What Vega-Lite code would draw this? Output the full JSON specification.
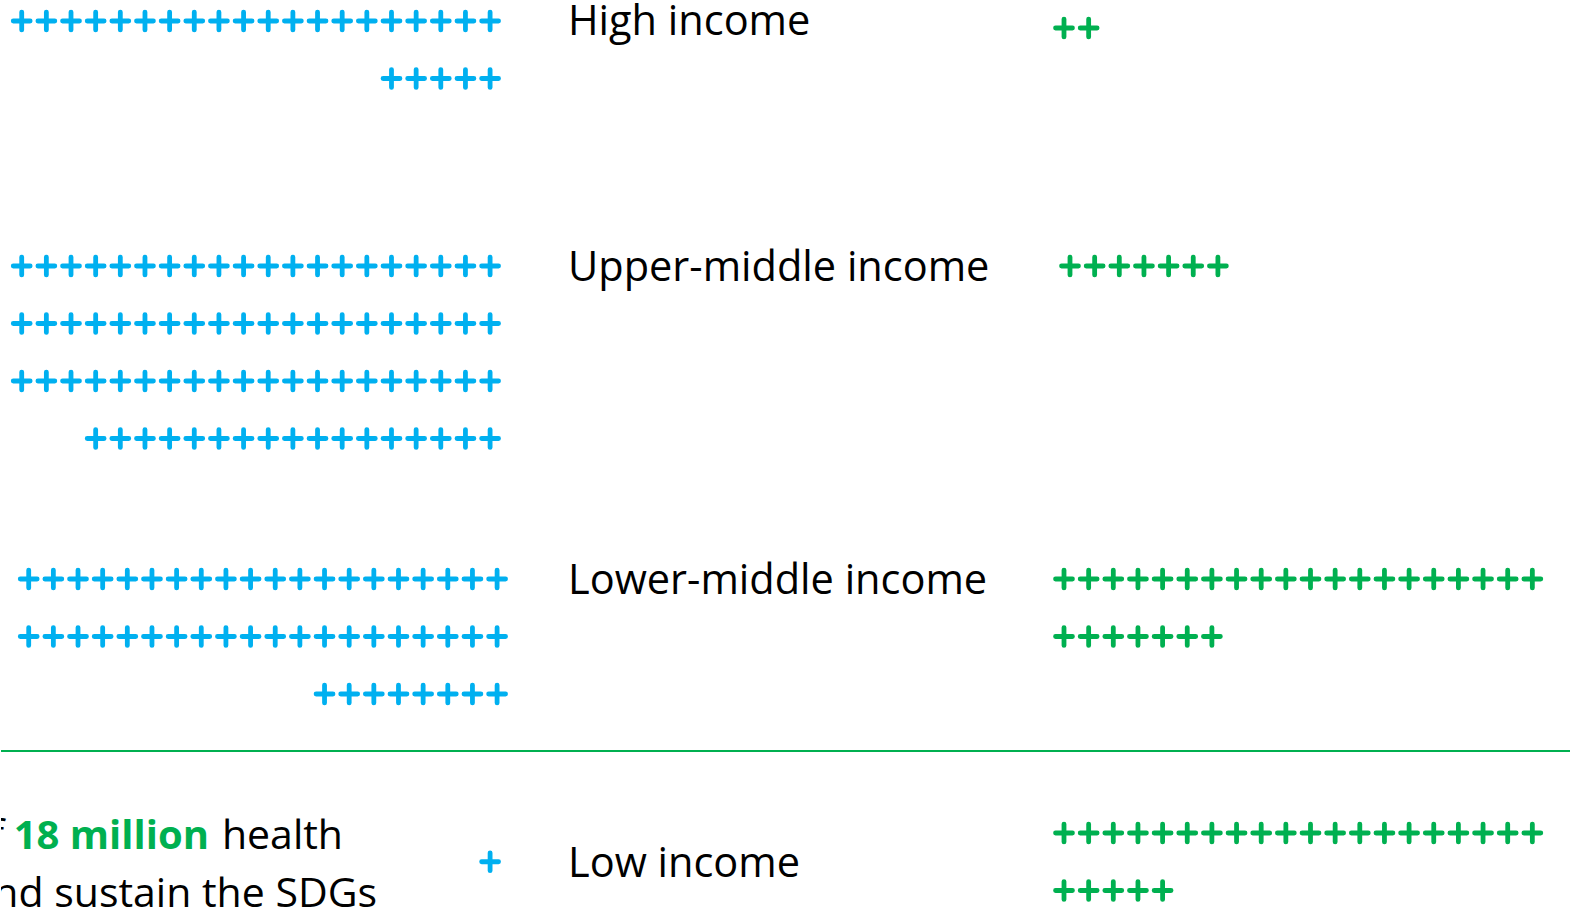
{
  "$schema": "https://vega.github.io/schema/vega-lite/v6.json",
  "background": "white",
  "padding": 0,
  "spacing": 0,
  "bounds": "flush",
  "columns": 3,
  "config": {"view": {"stroke": null}, "concat": {"spacing": 0}, "text": {"font": "Open Sans"}},
  "datasets": {
    "workforce": [
      {"group":"High income","row":1,"col":1},{"group":"High income","row":1,"col":2},{"group":"High income","row":1,"col":3},{"group":"High income","row":1,"col":4},{"group":"High income","row":1,"col":5},{"group":"High income","row":1,"col":6},{"group":"High income","row":1,"col":7},{"group":"High income","row":1,"col":8},{"group":"High income","row":1,"col":9},{"group":"High income","row":1,"col":10},{"group":"High income","row":1,"col":11},{"group":"High income","row":1,"col":12},{"group":"High income","row":1,"col":13},{"group":"High income","row":1,"col":14},{"group":"High income","row":1,"col":15},{"group":"High income","row":1,"col":16},{"group":"High income","row":1,"col":17},{"group":"High income","row":1,"col":18},{"group":"High income","row":1,"col":19},{"group":"High income","row":1,"col":20},
      {"group":"High income","row":2,"col":1},{"group":"High income","row":2,"col":2},{"group":"High income","row":2,"col":3},{"group":"High income","row":2,"col":4},{"group":"High income","row":2,"col":5},
      {"group":"Upper-middle income","row":1,"col":1},{"group":"Upper-middle income","row":1,"col":2},{"group":"Upper-middle income","row":1,"col":3},{"group":"Upper-middle income","row":1,"col":4},{"group":"Upper-middle income","row":1,"col":5},{"group":"Upper-middle income","row":1,"col":6},{"group":"Upper-middle income","row":1,"col":7},{"group":"Upper-middle income","row":1,"col":8},{"group":"Upper-middle income","row":1,"col":9},{"group":"Upper-middle income","row":1,"col":10},{"group":"Upper-middle income","row":1,"col":11},{"group":"Upper-middle income","row":1,"col":12},{"group":"Upper-middle income","row":1,"col":13},{"group":"Upper-middle income","row":1,"col":14},{"group":"Upper-middle income","row":1,"col":15},{"group":"Upper-middle income","row":1,"col":16},{"group":"Upper-middle income","row":1,"col":17},{"group":"Upper-middle income","row":1,"col":18},{"group":"Upper-middle income","row":1,"col":19},{"group":"Upper-middle income","row":1,"col":20},
      {"group":"Upper-middle income","row":2,"col":1},{"group":"Upper-middle income","row":2,"col":2},{"group":"Upper-middle income","row":2,"col":3},{"group":"Upper-middle income","row":2,"col":4},{"group":"Upper-middle income","row":2,"col":5},{"group":"Upper-middle income","row":2,"col":6},{"group":"Upper-middle income","row":2,"col":7},{"group":"Upper-middle income","row":2,"col":8},{"group":"Upper-middle income","row":2,"col":9},{"group":"Upper-middle income","row":2,"col":10},{"group":"Upper-middle income","row":2,"col":11},{"group":"Upper-middle income","row":2,"col":12},{"group":"Upper-middle income","row":2,"col":13},{"group":"Upper-middle income","row":2,"col":14},{"group":"Upper-middle income","row":2,"col":15},{"group":"Upper-middle income","row":2,"col":16},{"group":"Upper-middle income","row":2,"col":17},{"group":"Upper-middle income","row":2,"col":18},{"group":"Upper-middle income","row":2,"col":19},{"group":"Upper-middle income","row":2,"col":20},
      {"group":"Upper-middle income","row":3,"col":1},{"group":"Upper-middle income","row":3,"col":2},{"group":"Upper-middle income","row":3,"col":3},{"group":"Upper-middle income","row":3,"col":4},{"group":"Upper-middle income","row":3,"col":5},{"group":"Upper-middle income","row":3,"col":6},{"group":"Upper-middle income","row":3,"col":7},{"group":"Upper-middle income","row":3,"col":8},{"group":"Upper-middle income","row":3,"col":9},{"group":"Upper-middle income","row":3,"col":10},{"group":"Upper-middle income","row":3,"col":11},{"group":"Upper-middle income","row":3,"col":12},{"group":"Upper-middle income","row":3,"col":13},{"group":"Upper-middle income","row":3,"col":14},{"group":"Upper-middle income","row":3,"col":15},{"group":"Upper-middle income","row":3,"col":16},{"group":"Upper-middle income","row":3,"col":17},{"group":"Upper-middle income","row":3,"col":18},{"group":"Upper-middle income","row":3,"col":19},{"group":"Upper-middle income","row":3,"col":20},
      {"group":"Upper-middle income","row":4,"col":1},{"group":"Upper-middle income","row":4,"col":2},{"group":"Upper-middle income","row":4,"col":3},{"group":"Upper-middle income","row":4,"col":4},{"group":"Upper-middle income","row":4,"col":5},{"group":"Upper-middle income","row":4,"col":6},{"group":"Upper-middle income","row":4,"col":7},{"group":"Upper-middle income","row":4,"col":8},{"group":"Upper-middle income","row":4,"col":9},{"group":"Upper-middle income","row":4,"col":10},{"group":"Upper-middle income","row":4,"col":11},{"group":"Upper-middle income","row":4,"col":12},{"group":"Upper-middle income","row":4,"col":13},{"group":"Upper-middle income","row":4,"col":14},{"group":"Upper-middle income","row":4,"col":15},{"group":"Upper-middle income","row":4,"col":16},{"group":"Upper-middle income","row":4,"col":17},
      {"group":"Lower-middle income","row":1,"col":1},{"group":"Lower-middle income","row":1,"col":2},{"group":"Lower-middle income","row":1,"col":3},{"group":"Lower-middle income","row":1,"col":4},{"group":"Lower-middle income","row":1,"col":5},{"group":"Lower-middle income","row":1,"col":6},{"group":"Lower-middle income","row":1,"col":7},{"group":"Lower-middle income","row":1,"col":8},{"group":"Lower-middle income","row":1,"col":9},{"group":"Lower-middle income","row":1,"col":10},{"group":"Lower-middle income","row":1,"col":11},{"group":"Lower-middle income","row":1,"col":12},{"group":"Lower-middle income","row":1,"col":13},{"group":"Lower-middle income","row":1,"col":14},{"group":"Lower-middle income","row":1,"col":15},{"group":"Lower-middle income","row":1,"col":16},{"group":"Lower-middle income","row":1,"col":17},{"group":"Lower-middle income","row":1,"col":18},{"group":"Lower-middle income","row":1,"col":19},{"group":"Lower-middle income","row":1,"col":20},
      {"group":"Lower-middle income","row":2,"col":1},{"group":"Lower-middle income","row":2,"col":2},{"group":"Lower-middle income","row":2,"col":3},{"group":"Lower-middle income","row":2,"col":4},{"group":"Lower-middle income","row":2,"col":5},{"group":"Lower-middle income","row":2,"col":6},{"group":"Lower-middle income","row":2,"col":7},{"group":"Lower-middle income","row":2,"col":8},{"group":"Lower-middle income","row":2,"col":9},{"group":"Lower-middle income","row":2,"col":10},{"group":"Lower-middle income","row":2,"col":11},{"group":"Lower-middle income","row":2,"col":12},{"group":"Lower-middle income","row":2,"col":13},{"group":"Lower-middle income","row":2,"col":14},{"group":"Lower-middle income","row":2,"col":15},{"group":"Lower-middle income","row":2,"col":16},{"group":"Lower-middle income","row":2,"col":17},{"group":"Lower-middle income","row":2,"col":18},{"group":"Lower-middle income","row":2,"col":19},{"group":"Lower-middle income","row":2,"col":20},
      {"group":"Lower-middle income","row":3,"col":1},{"group":"Lower-middle income","row":3,"col":2},{"group":"Lower-middle income","row":3,"col":3},{"group":"Lower-middle income","row":3,"col":4},{"group":"Lower-middle income","row":3,"col":5},{"group":"Lower-middle income","row":3,"col":6},{"group":"Lower-middle income","row":3,"col":7},{"group":"Lower-middle income","row":3,"col":8},
      {"group":"Low income","row":1,"col":1}
    ],
    "shortfall": [
      {"group":"High income","row":1,"col":1},{"group":"High income","row":1,"col":2},
      {"group":"Upper-middle income","row":1,"col":1},{"group":"Upper-middle income","row":1,"col":2},{"group":"Upper-middle income","row":1,"col":3},{"group":"Upper-middle income","row":1,"col":4},{"group":"Upper-middle income","row":1,"col":5},{"group":"Upper-middle income","row":1,"col":6},{"group":"Upper-middle income","row":1,"col":7},
      {"group":"Lower-middle income","row":1,"col":1},{"group":"Lower-middle income","row":1,"col":2},{"group":"Lower-middle income","row":1,"col":3},{"group":"Lower-middle income","row":1,"col":4},{"group":"Lower-middle income","row":1,"col":5},{"group":"Lower-middle income","row":1,"col":6},{"group":"Lower-middle income","row":1,"col":7},{"group":"Lower-middle income","row":1,"col":8},{"group":"Lower-middle income","row":1,"col":9},{"group":"Lower-middle income","row":1,"col":10},{"group":"Lower-middle income","row":1,"col":11},{"group":"Lower-middle income","row":1,"col":12},{"group":"Lower-middle income","row":1,"col":13},{"group":"Lower-middle income","row":1,"col":14},{"group":"Lower-middle income","row":1,"col":15},{"group":"Lower-middle income","row":1,"col":16},{"group":"Lower-middle income","row":1,"col":17},{"group":"Lower-middle income","row":1,"col":18},{"group":"Lower-middle income","row":1,"col":19},{"group":"Lower-middle income","row":1,"col":20},
      {"group":"Lower-middle income","row":2,"col":1},{"group":"Lower-middle income","row":2,"col":2},{"group":"Lower-middle income","row":2,"col":3},{"group":"Lower-middle income","row":2,"col":4},{"group":"Lower-middle income","row":2,"col":5},{"group":"Lower-middle income","row":2,"col":6},{"group":"Lower-middle income","row":2,"col":7},
      {"group":"Low income","row":1,"col":1},{"group":"Low income","row":1,"col":2},{"group":"Low income","row":1,"col":3},{"group":"Low income","row":1,"col":4},{"group":"Low income","row":1,"col":5},{"group":"Low income","row":1,"col":6},{"group":"Low income","row":1,"col":7},{"group":"Low income","row":1,"col":8},{"group":"Low income","row":1,"col":9},{"group":"Low income","row":1,"col":10},{"group":"Low income","row":1,"col":11},{"group":"Low income","row":1,"col":12},{"group":"Low income","row":1,"col":13},{"group":"Low income","row":1,"col":14},{"group":"Low income","row":1,"col":15},{"group":"Low income","row":1,"col":16},{"group":"Low income","row":1,"col":17},{"group":"Low income","row":1,"col":18},{"group":"Low income","row":1,"col":19},{"group":"Low income","row":1,"col":20},
      {"group":"Low income","row":2,"col":1},{"group":"Low income","row":2,"col":2},{"group":"Low income","row":2,"col":3},{"group":"Low income","row":2,"col":4},{"group":"Low income","row":2,"col":5}
    ],
    "labels": [
      {"group":"High income","row":1},
      {"group":"Upper-middle income","row":1},
      {"group":"Lower-middle income","row":1},
      {"group":"Low income","row":1}
    ],
    "note": [
      {"part":"lead","text":"of","row":1},
      {"part":"figure","text":"18 million","row":1},
      {"part":"tail","text":"health","row":1},
      {"part":"line2","text":"and sustain the SDGs","row":2}
    ]
  },
  "concat": [
    {
      "width": 567, "height": 150,
      "data": {"name": "workforce"},
      "transform": [{"filter": "datum.group === 'High income'"}],
      "mark": {"type": "point", "shape": "M-1,0H1M0,-1.06V1.06", "size": 286, "filled": false, "strokeWidth": 4.8, "strokeCap": "round", "opacity": 1, "color": "#00B0F0"},
      "encoding": {
        "x": {"field": "col", "type": "quantitative", "scale": {"domain": [-2.16, 20.84], "reverse": true, "nice": false, "zero": false}, "axis": null},
        "y": {"field": "row", "type": "quantitative", "scale": {"domain": [0.6348, 3.2435], "reverse": true, "nice": false, "zero": false}, "axis": null}
      }
    },
    {
      "width": 483, "height": 150,
      "data": {"name": "labels"},
      "transform": [{"filter": "datum.group === 'High income'"}],
      "mark": {"type": "text", "align": "left", "baseline": "alphabetic", "font": "Open Sans", "fontSize": 41.5, "color": "#000000", "dy": 14, "clip": true},
      "encoding": {
        "x": {"value": 0},
        "y": {"field": "row", "type": "quantitative", "scale": {"domain": [0.6348, 3.2435], "reverse": true, "nice": false, "zero": false}, "axis": null},
        "text": {"field": "group"}
      }
    },
    {
      "width": 520, "height": 150,
      "data": {"name": "shortfall"},
      "transform": [{"filter": "datum.group === 'High income'"}],
      "mark": {"type": "point", "shape": "M-1,0H1M0,-1.06V1.06", "size": 286, "filled": false, "strokeWidth": 4.8, "strokeCap": "round", "opacity": 1, "color": "#00B050", "yOffset": 7},
      "encoding": {
        "x": {"field": "col", "type": "quantitative", "scale": {"domain": [0.4726, 21.568], "nice": false, "zero": false}, "axis": null},
        "y": {"field": "row", "type": "quantitative", "scale": {"domain": [0.6348, 3.2435], "reverse": true, "nice": false, "zero": false}, "axis": null}
      }
    },
    {
      "width": 567, "height": 360,
      "data": {"name": "workforce"},
      "transform": [{"filter": "datum.group === 'Upper-middle income'"}],
      "mark": {"type": "point", "shape": "M-1,0H1M0,-1.06V1.06", "size": 286, "filled": false, "strokeWidth": 4.8, "strokeCap": "round", "opacity": 1, "color": "#00B0F0"},
      "encoding": {
        "x": {"field": "col", "type": "quantitative", "scale": {"domain": [-2.16, 20.84], "reverse": true, "nice": false, "zero": false}, "axis": null},
        "y": {"field": "row", "type": "quantitative", "scale": {"domain": [-1.0174, 5.2435], "reverse": true, "nice": false, "zero": false}, "axis": null}
      }
    },
    {
      "width": 483, "height": 360,
      "data": {"name": "labels"},
      "transform": [{"filter": "datum.group === 'Upper-middle income'"}],
      "mark": {"type": "text", "align": "left", "baseline": "alphabetic", "font": "Open Sans", "fontSize": 41.5, "color": "#000000", "dy": 15, "clip": true},
      "encoding": {
        "x": {"value": 0},
        "y": {"field": "row", "type": "quantitative", "scale": {"domain": [-1.0174, 5.2435], "reverse": true, "nice": false, "zero": false}, "axis": null},
        "text": {"field": "group"}
      }
    },
    {
      "width": 520, "height": 360,
      "data": {"name": "shortfall"},
      "transform": [{"filter": "datum.group === 'Upper-middle income'"}],
      "mark": {"type": "point", "shape": "M-1,0H1M0,-1.06V1.06", "size": 286, "filled": false, "strokeWidth": 4.8, "strokeCap": "round", "opacity": 1, "color": "#00B050", "xOffset": 6},
      "encoding": {
        "x": {"field": "col", "type": "quantitative", "scale": {"domain": [0.4726, 21.568], "nice": false, "zero": false}, "axis": null},
        "y": {"field": "row", "type": "quantitative", "scale": {"domain": [-1.0174, 5.2435], "reverse": true, "nice": false, "zero": false}, "axis": null}
      }
    },
    {
      "width": 567, "height": 240,
      "data": {"name": "workforce"},
      "transform": [{"filter": "datum.group === 'Lower-middle income'"}],
      "mark": {"type": "point", "shape": "M-1,0H1M0,-1.06V1.06", "size": 286, "filled": false, "strokeWidth": 4.8, "strokeCap": "round", "opacity": 1, "color": "#00B0F0", "xOffset": 7},
      "encoding": {
        "x": {"field": "col", "type": "quantitative", "scale": {"domain": [-2.16, 20.84], "reverse": true, "nice": false, "zero": false}, "axis": null},
        "y": {"field": "row", "type": "quantitative", "scale": {"domain": [-0.2, 3.9739], "reverse": true, "nice": false, "zero": false}, "axis": null}
      }
    },
    {
      "width": 483, "height": 240,
      "data": {"name": "labels"},
      "transform": [{"filter": "datum.group === 'Lower-middle income'"}],
      "mark": {"type": "text", "align": "left", "baseline": "alphabetic", "font": "Open Sans", "fontSize": 41.5, "color": "#000000", "dy": 15, "clip": true},
      "encoding": {
        "x": {"value": 0},
        "y": {"field": "row", "type": "quantitative", "scale": {"domain": [-0.2, 3.9739], "reverse": true, "nice": false, "zero": false}, "axis": null},
        "text": {"field": "group"}
      }
    },
    {
      "width": 520, "height": 240,
      "data": {"name": "shortfall"},
      "transform": [{"filter": "datum.group === 'Lower-middle income'"}],
      "mark": {"type": "point", "shape": "M-1,0H1M0,-1.06V1.06", "size": 286, "filled": false, "strokeWidth": 4.8, "strokeCap": "round", "opacity": 1, "color": "#00B050"},
      "encoding": {
        "x": {"field": "col", "type": "quantitative", "scale": {"domain": [0.4726, 21.568], "nice": false, "zero": false}, "axis": null},
        "y": {"field": "row", "type": "quantitative", "scale": {"domain": [-0.2, 3.9739], "reverse": true, "nice": false, "zero": false}, "axis": null}
      }
    },
    {
      "width": 567, "height": 157,
      "layer": [
        {
          "data": {"name": "workforce"},
          "transform": [{"filter": "datum.group === 'Low income'"}],
          "mark": {"type": "point", "shape": "M-1,0H1M0,-1.06V1.06", "size": 286, "filled": false, "strokeWidth": 4.8, "strokeCap": "round", "opacity": 1, "color": "#00B0F0", "yOffset": 28.75},
          "encoding": {
            "x": {"field": "col", "type": "quantitative", "scale": {"domain": [-2.16, 20.84], "reverse": true, "nice": false, "zero": false}, "axis": null},
            "y": {"field": "row", "type": "quantitative", "scale": {"domain": [-0.4435, 2.2869], "reverse": true, "nice": false, "zero": false}, "axis": null}
          }
        },
        {
          "data": {"name": "note"},
          "transform": [{"filter": "datum.part === 'lead'"}],
          "mark": {"type": "text", "align": "right", "baseline": "alphabetic", "font": "Open Sans", "fontSize": 41, "color": "#000000", "dy": 16, "clip": true},
          "encoding": {"x": {"value": 3}, "y": {"field": "row", "type": "quantitative"}, "text": {"field": "text"}}
        },
        {
          "data": {"name": "note"},
          "transform": [{"filter": "datum.part === 'figure'"}],
          "mark": {"type": "text", "align": "right", "baseline": "alphabetic", "font": "Open Sans", "fontSize": 40, "fontWeight": "bold", "color": "#00B050", "dy": 16, "clip": true},
          "encoding": {"x": {"value": 208}, "y": {"field": "row", "type": "quantitative"}, "text": {"field": "text"}}
        },
        {
          "data": {"name": "note"},
          "transform": [{"filter": "datum.part === 'tail'"}],
          "mark": {"type": "text", "align": "right", "baseline": "alphabetic", "font": "Open Sans", "fontSize": 41, "color": "#000000", "dy": 16, "clip": true},
          "encoding": {"x": {"value": 342}, "y": {"field": "row", "type": "quantitative"}, "text": {"field": "text"}}
        },
        {
          "data": {"name": "note"},
          "transform": [{"filter": "datum.part === 'line2'"}],
          "mark": {"type": "text", "align": "right", "baseline": "alphabetic", "font": "Open Sans", "fontSize": 41, "color": "#000000", "dy": 16, "clip": true},
          "encoding": {"x": {"value": 376}, "y": {"field": "row", "type": "quantitative"}, "text": {"field": "text"}}
        },
        {
          "data": {"values": [{}]},
          "mark": {"type": "rule", "color": "#00B050", "strokeWidth": 2, "yOffset": 1},
          "encoding": {"y": {"value": 0}}
        }
      ]
    },
    {
      "width": 483, "height": 157,
      "layer": [
        {
          "data": {"name": "labels"},
          "transform": [{"filter": "datum.group === 'Low income'"}],
          "mark": {"type": "text", "align": "left", "baseline": "alphabetic", "font": "Open Sans", "fontSize": 41.5, "color": "#000000", "dy": 15, "yOffset": 28.75, "clip": true},
          "encoding": {
            "x": {"value": 0},
            "y": {"field": "row", "type": "quantitative", "scale": {"domain": [-0.4435, 2.2869], "reverse": true, "nice": false, "zero": false}, "axis": null},
            "text": {"field": "group"}
          }
        },
        {
          "data": {"values": [{}]},
          "mark": {"type": "rule", "color": "#00B050", "strokeWidth": 2, "yOffset": 1},
          "encoding": {"y": {"value": 0}}
        }
      ]
    },
    {
      "width": 520, "height": 157,
      "layer": [
        {
          "data": {"name": "shortfall"},
          "transform": [{"filter": "datum.group === 'Low income'"}],
          "mark": {"type": "point", "shape": "M-1,0H1M0,-1.06V1.06", "size": 286, "filled": false, "strokeWidth": 4.8, "strokeCap": "round", "opacity": 1, "color": "#00B050"},
          "encoding": {
            "x": {"field": "col", "type": "quantitative", "scale": {"domain": [0.4726, 21.568], "nice": false, "zero": false}, "axis": null},
            "y": {"field": "row", "type": "quantitative", "scale": {"domain": [-0.4435, 2.2869], "reverse": true, "nice": false, "zero": false}, "axis": null}
          }
        },
        {
          "data": {"values": [{}]},
          "mark": {"type": "rule", "color": "#00B050", "strokeWidth": 2, "yOffset": 1},
          "encoding": {"y": {"value": 0}}
        }
      ]
    }
  ]
}
